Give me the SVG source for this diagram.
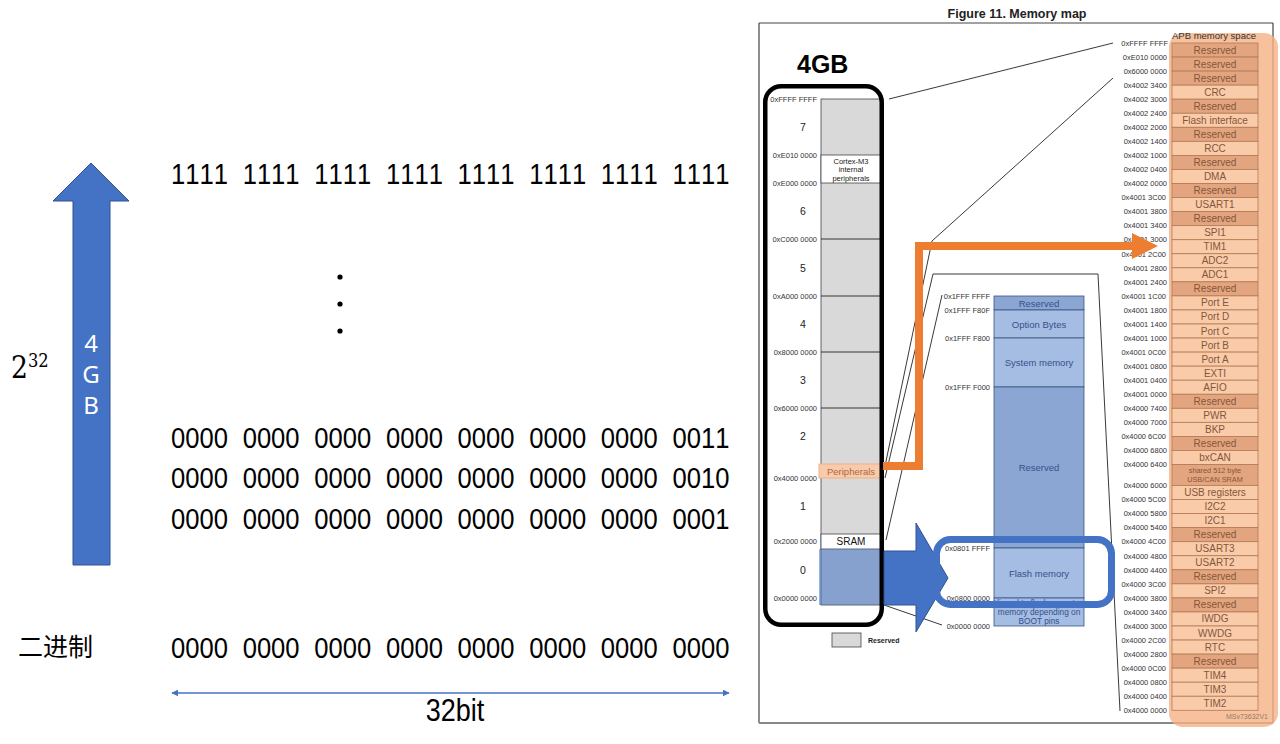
<svg xmlns="http://www.w3.org/2000/svg" width="1280" height="744" viewBox="0 0 1280 744">
<defs>
<style>
text{font-family:"Liberation Sans",Arial,sans-serif}
.bin{font-size:25.6px;word-spacing:7.6px;fill:#000;font-kerning:none}
.addr{font-size:7.5px;fill:#333;text-anchor:end}
.num{font-size:10.5px;fill:#222;text-anchor:middle}
.gray{fill:#d9d9d9;stroke:#444;stroke-width:0.8}
.wbox{fill:#fff;stroke:#444;stroke-width:0.8}
.ln{stroke:#222;stroke-width:0.9;fill:none}
.ml{fill:#a5bce3;stroke:#3b5584;stroke-width:0.8}
.md{fill:#8ca6d3;stroke:#3b5584;stroke-width:0.8}
.mt{font-size:9.5px;fill:#34528c;text-anchor:middle}
.row{fill:#f9cba9;stroke:#b37a55;stroke-width:0.8}
.rsv{fill:#e2a57f}
.rt{font-size:10px;fill:#86563a;text-anchor:middle}
</style>
<marker id="ah" viewBox="0 0 10 10" refX="9" refY="5" markerWidth="7" markerHeight="7" orient="auto-start-reverse" markerUnits="userSpaceOnUse">
<path d="M0,0 L10,5 L0,10 z" fill="#4472c4"/>
</marker>
</defs>
<rect width="1280" height="744" fill="#fff"/>

<!-- left side -->
<g id="size-arrow">
<polygon points="73,565 73,201 53,201 91,163 129,201 110,201 110,565" fill="#4472c4" stroke="#2f528f" stroke-width="1"/>
<text x="91" y="352" font-size="24" fill="#fff" text-anchor="middle" style="font-family:'Noto Sans',sans-serif">4</text>
<text x="91" y="383" font-size="24" fill="#fff" text-anchor="middle" style="font-family:'Noto Sans',sans-serif">G</text>
<text x="91" y="414" font-size="24" fill="#fff" text-anchor="middle" style="font-family:'Noto Sans',sans-serif">B</text>
</g>
<g id="pow">
<text x="11" y="378" font-size="31" style="font-family:'DejaVu Serif','Liberation Serif',serif" transform="translate(11,0) scale(0.86,1) translate(-11,0)">2<tspan dy="-11" font-size="19">32</tspan></text>
</g>
<g id="binary">
<text class="bin" transform="translate(171,184) scale(1,1.15)">1111 1111 1111 1111 1111 1111 1111 1111</text>
<circle cx="340" cy="277" r="2.6" fill="#000"/>
<circle cx="340" cy="304" r="2.6" fill="#000"/>
<circle cx="340" cy="331" r="2.6" fill="#000"/>
<text class="bin" transform="translate(171,447.5) scale(1,1.15)">0000 0000 0000 0000 0000 0000 0000 0011</text>
<text class="bin" transform="translate(171,488) scale(1,1.15)">0000 0000 0000 0000 0000 0000 0000 0010</text>
<text class="bin" transform="translate(171,528.5) scale(1,1.15)">0000 0000 0000 0000 0000 0000 0000 0001</text>
<text class="bin" transform="translate(171,657.5) scale(1,1.15)">0000 0000 0000 0000 0000 0000 0000 0000</text>
<text x="18" y="656" font-size="25" style="font-family:'Noto Sans CJK SC','Noto Sans',sans-serif">二进制</text>
</g>
<g id="bits">
<line x1="172" y1="693" x2="729" y2="693" stroke="#4472c4" stroke-width="1.3" marker-start="url(#ah)" marker-end="url(#ah)"/>
<text x="455" y="721" font-size="27" text-anchor="middle" transform="translate(0,-94) scale(1,1.13)" style="font-family:'Liberation Sans',sans-serif">32bit</text>
</g>

<!-- memory map frame -->
<g id="frame">
<text x="1017" y="18" font-size="12.5" font-weight="bold" text-anchor="middle" fill="#222">Figure 11. Memory map</text>
<line x1="759" y1="23" x2="1273" y2="23" stroke="#444" stroke-width="1.2"/>
<line x1="759" y1="23" x2="759" y2="723" stroke="#444" stroke-width="1.2"/>
<line x1="1273" y1="23" x2="1273" y2="723" stroke="#444" stroke-width="1.2"/>
<line x1="759" y1="723" x2="1273" y2="723" stroke="#888" stroke-width="2"/>
</g>

<!-- 4GB column -->
<g id="main-map">
<rect class="gray" x="821" y="99" width="61" height="506"/>
<rect class="wbox" x="821" y="155" width="61" height="28"/>
<line class="ln" x1="821" y1="239" x2="882" y2="239"/>
<line class="ln" x1="821" y1="296" x2="882" y2="296"/>
<line class="ln" x1="821" y1="352" x2="882" y2="352"/>
<line class="ln" x1="821" y1="408" x2="882" y2="408"/>
<rect class="wbox" x="821" y="534" width="61" height="15"/>
<rect x="819" y="549" width="64" height="56" fill="#4472c4" fill-opacity="0.55"/>
<rect x="819" y="464" width="64" height="14" fill="#f8cbad" stroke="#f4b183" stroke-width="1"/>
<text x="851" y="163.5" font-size="7.5" fill="#222" text-anchor="middle">Cortex-M3</text>
<text x="851" y="171.5" font-size="7.5" fill="#222" text-anchor="middle">internal</text>
<text x="851" y="180.5" font-size="7.5" fill="#222" text-anchor="middle">peripherals</text>
<text x="851" y="474.5" font-size="9.5" fill="#b0673a" text-anchor="middle">Peripherals</text>
<text x="851" y="545" font-size="10" fill="#111" text-anchor="middle">SRAM</text>
<text class="addr" x="817" y="101.7">0xFFFF FFFF</text>
<text class="addr" x="817" y="157.7">0xE010 0000</text>
<text class="addr" x="817" y="185.7">0xE000 0000</text>
<text class="addr" x="817" y="241.7">0xC000 0000</text>
<text class="addr" x="817" y="298.7">0xA000 0000</text>
<text class="addr" x="817" y="354.7">0x8000 0000</text>
<text class="addr" x="817" y="410.7">0x6000 0000</text>
<text class="addr" x="817" y="480.7">0x4000 0000</text>
<text class="addr" x="817" y="543.7">0x2000 0000</text>
<text class="addr" x="817" y="600.7">0x0000 0000</text>
<text class="num" x="803" y="131">7</text>
<text class="num" x="803" y="215">6</text>
<text class="num" x="803" y="272">5</text>
<text class="num" x="803" y="328">4</text>
<text class="num" x="803" y="384">3</text>
<text class="num" x="803" y="440">2</text>
<text class="num" x="803" y="510">1</text>
<text class="num" x="803" y="574">0</text>
<rect x="765.25" y="86.25" width="116.5" height="538.5" rx="16" fill="none" stroke="#000" stroke-width="4.5"/>
<text x="797" y="73" font-size="25" font-weight="bold" fill="#000">4GB</text>
</g>
<g id="legend">
<rect class="gray" x="832" y="633" width="29" height="14"/>
<text x="868" y="642.5" font-size="7" font-weight="bold" fill="#222">Reserved</text>
</g>

<!-- connectors -->
<g id="connectors">
<polyline class="ln" points="889,99 1113,43"/>
<polyline class="ln" points="1113,78 932,241 885,466"/>
<polyline class="ln" points="885,478 933,274 1098,274 1120,711"/>
<polyline class="ln" points="942,295 886,540"/>
<polyline class="ln" points="884,605 942,625"/>
</g>

<!-- flash detail block -->
<g id="flash-map">
<rect class="md" x="994" y="296" width="90" height="14"/>
<rect class="ml" x="994" y="310" width="90" height="28"/>
<rect class="ml" x="994" y="338" width="90" height="49"/>
<rect class="md" x="994" y="387" width="90" height="161"/>
<rect class="ml" x="994" y="548" width="90" height="50"/>
<rect class="ml" x="994" y="598" width="90" height="28"/>
<text class="mt" x="1039" y="306.5">Reserved</text>
<text class="mt" x="1039" y="327.5">Option Bytes</text>
<text class="mt" x="1039" y="366">System memory</text>
<text class="mt" x="1039" y="470.5">Reserved</text>
<text class="mt" x="1039" y="576.5">Flash memory</text>
<text class="mt" x="1039" y="606" style="font-size:8.3px">Aliased to flash or system</text>
<text class="mt" x="1039" y="615" style="font-size:8.3px">memory depending on</text>
<text class="mt" x="1039" y="623.5" style="font-size:8.3px">BOOT pins</text>
<text class="addr" x="990" y="298.7">0x1FFF FFFF</text>
<text class="addr" x="990" y="312.7">0x1FFF F80F</text>
<text class="addr" x="990" y="340.7">0x1FFF F800</text>
<text class="addr" x="990" y="389.7">0x1FFF F000</text>
<text class="addr" x="990" y="550.7">0x0801 FFFF</text>
<text class="addr" x="990" y="600.7">0x0800 0000</text>
<text class="addr" x="990" y="628.7">0x0000 0000</text>
</g>

<!-- APB peripheral column -->
<g id="apb-map">
<rect x="1169" y="33" width="109" height="694" rx="14" fill="#f4b183" fill-opacity="0.8"/>
<text x="1172" y="39" font-size="9.5" fill="#333">APB memory space</text>
<rect class="row rsv" x="1172" y="43" width="86" height="14.05"/>
<rect class="row rsv" x="1172" y="57.05" width="86" height="14.05"/>
<rect class="row rsv" x="1172" y="71.1" width="86" height="14.05"/>
<rect class="row" x="1172" y="85.15" width="86" height="14.05"/>
<rect class="row rsv" x="1172" y="99.2" width="86" height="14.05"/>
<rect class="row" x="1172" y="113.25" width="86" height="14.05"/>
<rect class="row rsv" x="1172" y="127.3" width="86" height="14.05"/>
<rect class="row" x="1172" y="141.35" width="86" height="14.05"/>
<rect class="row rsv" x="1172" y="155.4" width="86" height="14.05"/>
<rect class="row" x="1172" y="169.45" width="86" height="14.05"/>
<rect class="row rsv" x="1172" y="183.5" width="86" height="14.05"/>
<rect class="row" x="1172" y="197.55" width="86" height="14.05"/>
<rect class="row rsv" x="1172" y="211.6" width="86" height="14.05"/>
<rect class="row" x="1172" y="225.65" width="86" height="14.05"/>
<rect class="row" x="1172" y="239.7" width="86" height="14.05"/>
<rect class="row" x="1172" y="253.75" width="86" height="14.05"/>
<rect class="row" x="1172" y="267.8" width="86" height="14.05"/>
<rect class="row rsv" x="1172" y="281.85" width="86" height="14.05"/>
<rect class="row" x="1172" y="295.9" width="86" height="14.05"/>
<rect class="row" x="1172" y="309.95" width="86" height="14.05"/>
<rect class="row" x="1172" y="324" width="86" height="14.05"/>
<rect class="row" x="1172" y="338.05" width="86" height="14.05"/>
<rect class="row" x="1172" y="352.1" width="86" height="14.05"/>
<rect class="row" x="1172" y="366.15" width="86" height="14.05"/>
<rect class="row" x="1172" y="380.2" width="86" height="14.05"/>
<rect class="row rsv" x="1172" y="394.25" width="86" height="14.05"/>
<rect class="row" x="1172" y="408.3" width="86" height="14.05"/>
<rect class="row" x="1172" y="422.35" width="86" height="14.05"/>
<rect class="row rsv" x="1172" y="436.4" width="86" height="14.05"/>
<rect class="row" x="1172" y="450.45" width="86" height="14.05"/>
<rect class="row rsv" x="1172" y="464.5" width="86" height="21"/>
<rect class="row" x="1172" y="485.5" width="86" height="14.05"/>
<rect class="row" x="1172" y="499.55" width="86" height="14.05"/>
<rect class="row" x="1172" y="513.6" width="86" height="14.05"/>
<rect class="row rsv" x="1172" y="527.65" width="86" height="14.05"/>
<rect class="row" x="1172" y="541.7" width="86" height="14.05"/>
<rect class="row" x="1172" y="555.75" width="86" height="14.05"/>
<rect class="row rsv" x="1172" y="569.8" width="86" height="14.05"/>
<rect class="row" x="1172" y="583.85" width="86" height="14.05"/>
<rect class="row rsv" x="1172" y="597.9" width="86" height="14.05"/>
<rect class="row" x="1172" y="611.95" width="86" height="14.05"/>
<rect class="row" x="1172" y="626" width="86" height="14.05"/>
<rect class="row" x="1172" y="640.05" width="86" height="14.05"/>
<rect class="row rsv" x="1172" y="654.1" width="86" height="14.05"/>
<rect class="row" x="1172" y="668.15" width="86" height="14.05"/>
<rect class="row" x="1172" y="682.2" width="86" height="14.05"/>
<rect class="row" x="1172" y="696.25" width="86" height="14.05"/>
<text class="rt" x="1215" y="53.5">Reserved</text>
<text class="rt" x="1215" y="67.5">Reserved</text>
<text class="rt" x="1215" y="81.6">Reserved</text>
<text class="rt" x="1215" y="95.6">CRC</text>
<text class="rt" x="1215" y="109.7">Reserved</text>
<text class="rt" x="1215" y="123.7">Flash interface</text>
<text class="rt" x="1215" y="137.8">Reserved</text>
<text class="rt" x="1215" y="151.8">RCC</text>
<text class="rt" x="1215" y="165.9">Reserved</text>
<text class="rt" x="1215" y="179.9">DMA</text>
<text class="rt" x="1215" y="194">Reserved</text>
<text class="rt" x="1215" y="208">USART1</text>
<text class="rt" x="1215" y="222.1">Reserved</text>
<text class="rt" x="1215" y="236.1">SPI1</text>
<text class="rt" x="1215" y="250.2">TIM1</text>
<text class="rt" x="1215" y="264.2">ADC2</text>
<text class="rt" x="1215" y="278.3">ADC1</text>
<text class="rt" x="1215" y="292.3">Reserved</text>
<text class="rt" x="1215" y="306.4">Port E</text>
<text class="rt" x="1215" y="320.4">Port D</text>
<text class="rt" x="1215" y="334.5">Port C</text>
<text class="rt" x="1215" y="348.5">Port B</text>
<text class="rt" x="1215" y="362.6">Port A</text>
<text class="rt" x="1215" y="376.6">EXTI</text>
<text class="rt" x="1215" y="390.7">AFIO</text>
<text class="rt" x="1215" y="404.7">Reserved</text>
<text class="rt" x="1215" y="418.8">PWR</text>
<text class="rt" x="1215" y="432.8">BKP</text>
<text class="rt" x="1215" y="446.9">Reserved</text>
<text class="rt" x="1215" y="460.9">bxCAN</text>
<text class="rt" x="1215" y="473" style="font-size:7.3px">shared 512 byte</text>
<text class="rt" x="1215" y="482.3" style="font-size:7.3px">USB/CAN SRAM</text>
<text class="rt" x="1215" y="496">USB registers</text>
<text class="rt" x="1215" y="510">I2C2</text>
<text class="rt" x="1215" y="524.1">I2C1</text>
<text class="rt" x="1215" y="538.1">Reserved</text>
<text class="rt" x="1215" y="552.2">USART3</text>
<text class="rt" x="1215" y="566.2">USART2</text>
<text class="rt" x="1215" y="580.3">Reserved</text>
<text class="rt" x="1215" y="594.3">SPI2</text>
<text class="rt" x="1215" y="608.4">Reserved</text>
<text class="rt" x="1215" y="622.4">IWDG</text>
<text class="rt" x="1215" y="636.5">WWDG</text>
<text class="rt" x="1215" y="650.5">RTC</text>
<text class="rt" x="1215" y="664.6">Reserved</text>
<text class="rt" x="1215" y="678.6">TIM4</text>
<text class="rt" x="1215" y="692.7">TIM3</text>
<text class="rt" x="1215" y="706.7">TIM2</text>
<text x="1268" y="719" font-size="7" fill="#9a7a66" text-anchor="end">MSv73632V1</text>
<g class="addr-list">
<text class="addr" x="1168" y="45.7">0xFFFF FFFF</text>
<text class="addr" x="1167" y="59.8">0xE010 0000</text>
<text class="addr" x="1167" y="73.8">0x6000 0000</text>
<text class="addr" x="1167" y="87.9">0x4002 3400</text>
<text class="addr" x="1167" y="101.9">0x4002 3000</text>
<text class="addr" x="1167" y="116">0x4002 2400</text>
<text class="addr" x="1167" y="130">0x4002 2000</text>
<text class="addr" x="1167" y="144.1">0x4002 1400</text>
<text class="addr" x="1167" y="158.1">0x4002 1000</text>
<text class="addr" x="1167" y="172.2">0x4002 0400</text>
<text class="addr" x="1167" y="186.2">0x4002 0000</text>
<text class="addr" x="1166" y="200.3">0x4001 3C00</text>
<text class="addr" x="1167" y="214.3">0x4001 3800</text>
<text class="addr" x="1167" y="228.4">0x4001 3400</text>
<text class="addr" x="1167" y="242.4">0x4001 3000</text>
<text class="addr" x="1166" y="256.5">0x4001 2C00</text>
<text class="addr" x="1167" y="270.5">0x4001 2800</text>
<text class="addr" x="1167" y="284.6">0x4001 2400</text>
<text class="addr" x="1166" y="298.6">0x4001 1C00</text>
<text class="addr" x="1167" y="312.7">0x4001 1800</text>
<text class="addr" x="1167" y="326.7">0x4001 1400</text>
<text class="addr" x="1167" y="340.8">0x4001 1000</text>
<text class="addr" x="1166" y="354.8">0x4001 0C00</text>
<text class="addr" x="1167" y="368.9">0x4001 0800</text>
<text class="addr" x="1167" y="382.9">0x4001 0400</text>
<text class="addr" x="1167" y="397">0x4001 0000</text>
<text class="addr" x="1167" y="411">0x4000 7400</text>
<text class="addr" x="1167" y="425.1">0x4000 7000</text>
<text class="addr" x="1166" y="439.1">0x4000 6C00</text>
<text class="addr" x="1167" y="453.2">0x4000 6800</text>
<text class="addr" x="1167" y="467.2">0x4000 6400</text>
<text class="addr" x="1167" y="488.2">0x4000 6000</text>
<text class="addr" x="1166" y="502.3">0x4000 5C00</text>
<text class="addr" x="1167" y="516.3">0x4000 5800</text>
<text class="addr" x="1167" y="530.4">0x4000 5400</text>
<text class="addr" x="1166" y="544.4">0x4000 4C00</text>
<text class="addr" x="1167" y="558.5">0x4000 4800</text>
<text class="addr" x="1167" y="572.5">0x4000 4400</text>
<text class="addr" x="1166" y="586.6">0x4000 3C00</text>
<text class="addr" x="1167" y="600.6">0x4000 3800</text>
<text class="addr" x="1167" y="614.7">0x4000 3400</text>
<text class="addr" x="1167" y="628.7">0x4000 3000</text>
<text class="addr" x="1166" y="642.8">0x4000 2C00</text>
<text class="addr" x="1167" y="656.8">0x4000 2800</text>
<text class="addr" x="1166" y="670.9">0x4000 0C00</text>
<text class="addr" x="1167" y="684.9">0x4000 0800</text>
<text class="addr" x="1167" y="699">0x4000 0400</text>
<text class="addr" x="1167" y="713">0x4000 0000</text>
</g>
</g>

<!-- highlight arrows -->
<g id="highlights">
<polyline points="883,466 919,466 919,246 1134,246" fill="none" stroke="#ed7d31" stroke-width="8" stroke-linejoin="miter"/>
<polygon points="1132,233 1158,246 1132,259" fill="#ed7d31"/>
<polygon points="884,551 916,551 916,523 948,578 916,632 916,605 884,605" fill="#4472c4" stroke="#2f528f" stroke-width="1"/>
<rect x="936.5" y="539.5" width="175" height="65" rx="14" fill="none" stroke="#4472c4" stroke-width="7"/>
</g>
</svg>
